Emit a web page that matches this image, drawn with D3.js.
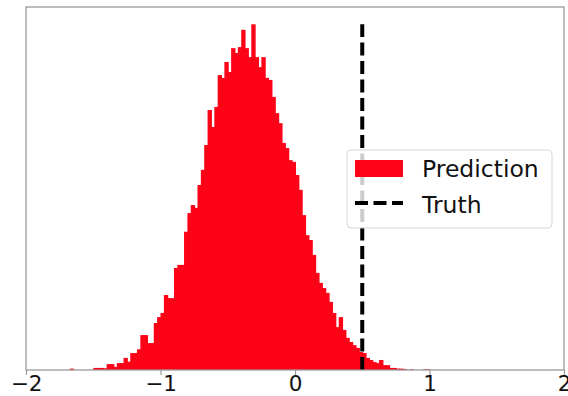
<!DOCTYPE html>
<html>
<head>
<meta charset="utf-8">
<script src="https://cdn.jsdelivr.net/npm/d3@7"></script>
<style>
  html, body { margin: 0; padding: 0; background: #fff; }
  svg { display: block; font-family: "DejaVu Sans", sans-serif; }
</style>
</head>
<body>
<svg id="chart" width="568" height="396"></svg>
<script>
// Histogram of predicted values against the true value
const binStart = -1.70;
const binWidth = 0.025;
const counts = [
  0, 0.4, 0, 0, 0, 0, 0, 0, 0.6, 0.6,
  0.6, 0.5, 1.7, 1.7, 0.9, 2.0, 2.0, 3.5, 2.4, 4.9,
  4.9, 6.0, 10.1, 10.1, 7.8, 7.8, 13.6, 15.3, 16.5, 21.7,
  20.8, 20.8, 29.5, 30.4, 30.4, 40.0, 45.4, 47.7, 46.9, 53.5,
  57.9, 65.1, 75.2, 70.3, 76.1, 85.3, 84.5, 89.1, 86.2, 93.1,
  91.7, 93.4, 98.4, 93.1, 90.5, 100, 90.5, 87.6, 90.5, 84.5,
  83.9, 79.0, 74.3, 71.4, 65.7, 64.2, 60.7, 60.2, 56.4, 52.1,
  44.8, 39.0, 37.6, 33.3, 28.1, 25.2, 23.7, 22.3, 19.7, 16.5,
  12.4, 15.3, 11.6, 9.3, 8.1, 7.2, 6.4, 5.2, 4.9, 3.5,
  2.9, 2.3, 2.0, 2.9, 1.4, 1.4, 0.6, 0.6, 0.4, 0.4,
  0.3, 0, 0.2, 0, 0, 0, 0.2, 0.2
];
const truthValue = 0.5;
const xTicks = [-2, -1, 0, 1, 2];
const legendLabels = ["Prediction", "Truth"];

const bins = counts.map((c, i) => ({
  x0: binStart + i * binWidth,
  x1: binStart + (i + 1) * binWidth,
  count: c
}));
const peak = d3.max(counts);

const svg = d3.select("#chart");
const plotLeft = 26, plotRight = 564, plotTop = 7, plotBottom = 370;

const x = d3.scaleLinear().domain([-2, 2]).range([plotLeft, plotRight]);
const y = d3.scaleLinear().domain([0, peak * 1.05]).range([plotBottom, plotTop]);

const red = "#fc0318";

// Bars (slightly overlapped so no seams show between neighbours)
svg.append("g")
  .selectAll("rect")
  .data(bins.filter(d => d.count > 0))
  .join("rect")
  .attr("x", d => x(d.x0))
  .attr("width", d => x(d.x1) - x(d.x0) + 1)
  .attr("y", d => y(d.count))
  .attr("height", d => y(0) - y(d.count))
  .attr("fill", red);

// Truth marker, drawn from zero up to the tallest bin
svg.append("line")
  .attr("x1", x(truthValue)).attr("x2", x(truthValue))
  .attr("y1", y(0)).attr("y2", y(peak))
  .attr("stroke", "#000")
  .attr("stroke-width", 4)
  .attr("stroke-dasharray", "13,5.5");

// Frame
svg.append("rect")
  .attr("x", plotLeft).attr("y", plotTop)
  .attr("width", plotRight - plotLeft).attr("height", plotBottom - plotTop)
  .attr("fill", "none")
  .attr("stroke", "#9a9a9a")
  .attr("stroke-width", 1.3);

// X axis
const xAxis = d3.axisBottom(x)
  .tickValues(xTicks)
  .tickSize(5)
  .tickPadding(2)
  .tickFormat(d => d3.format("d")(d).replace("-", "\u2212"));
const gx = svg.append("g")
  .attr("transform", `translate(0,${plotBottom})`)
  .call(xAxis);
gx.select(".domain").remove();
gx.selectAll(".tick line").attr("stroke", "#9a9a9a").attr("stroke-width", 1.2);
gx.selectAll(".tick text")
  .attr("fill", "#111")
  .attr("dy", "0.66em")
  .style("font-size", "21.5px")
  .style("font-family", "'DejaVu Sans', sans-serif");

// Legend
const lg = svg.append("g");
lg.append("rect")
  .attr("x", 347).attr("y", 150)
  .attr("width", 205).attr("height", 78)
  .attr("rx", 4)
  .attr("fill", "#fff").attr("fill-opacity", 0.8)
  .attr("stroke", "#d6d6d6").attr("stroke-width", 1);
lg.append("rect")
  .attr("x", 355).attr("y", 160)
  .attr("width", 48).attr("height", 17)
  .attr("fill", red);
lg.append("line")
  .attr("x1", 355).attr("x2", 403)
  .attr("y1", 203).attr("y2", 203)
  .attr("stroke", "#000").attr("stroke-width", 4)
  .attr("stroke-dasharray", "13,5.5");
lg.selectAll("text")
  .data(legendLabels)
  .join("text")
  .attr("x", 422)
  .attr("y", (d, i) => 177 + i * 36)
  .attr("fill", "#111")
  .style("font-size", "23.5px")
  .text(d => d);
</script>
</body>
</html>
